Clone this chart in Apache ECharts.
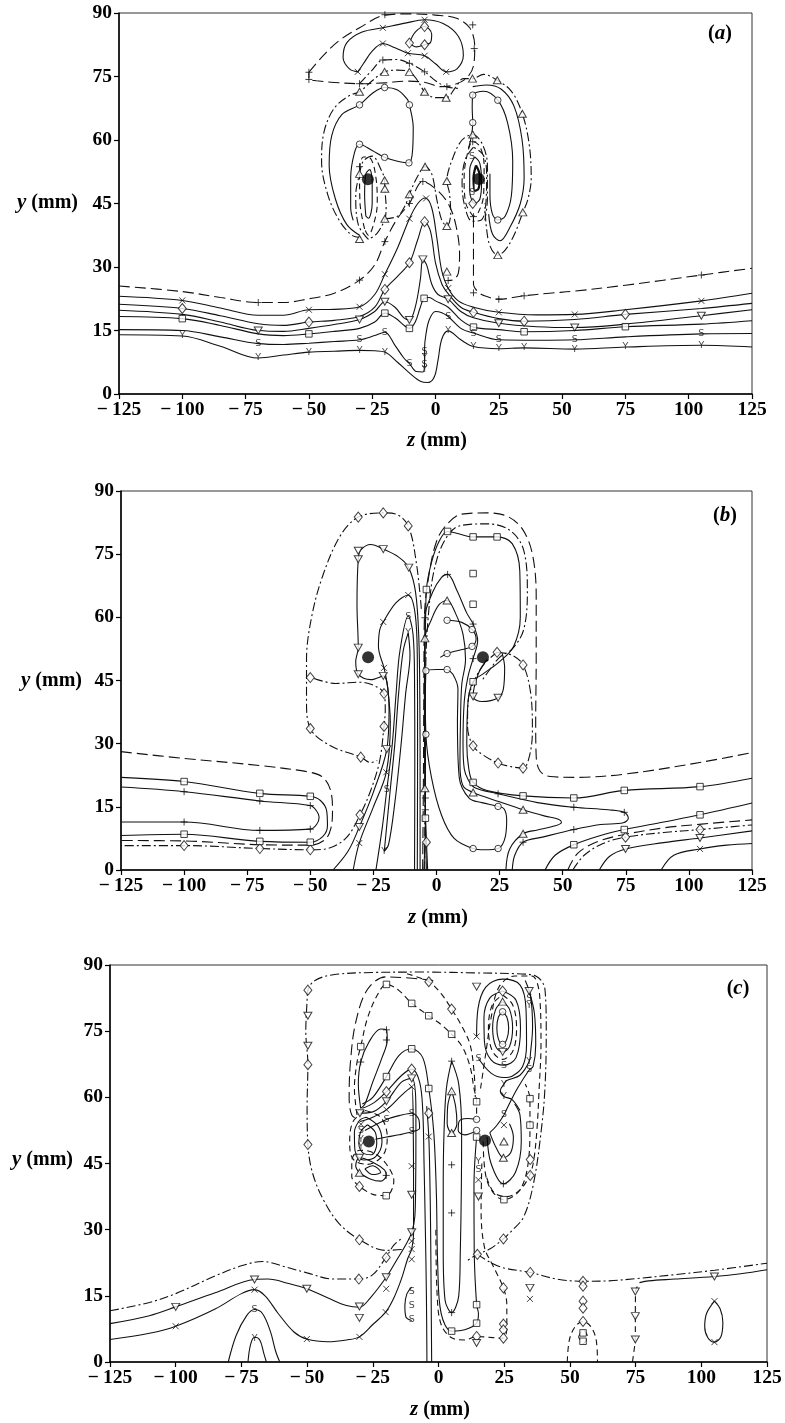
<!DOCTYPE html>
<html><head><meta charset="utf-8">
<script src="https://cdn.jsdelivr.net/npm/echarts@6/dist/echarts.min.js"></script>
<style>html,body{margin:0;padding:0;background:#fff}#c{width:785px;height:1423px}</style>
</head><body><div id="c"></div>
<script>
// ---------- axis ticks ----------
const zTicks = [-125,-100,-75,-50,-25,0,25,50,75,100,125];
const yTicks = [0,15,30,45,60,75,90];
const panelTags = ['a','b','c'];

// ================= PANEL (a) contours =================
const a_lo_plus = [[-125,25.5],[-100,24.2],[-85,22.8],[-70,21.6],[-60,21.6],[-50,22.5],[-40,23.8],[-30,26.9],[-24,30.5],[-20,36],[-15,41.5],[-10.3,45],[-5,50.2],[0,48.5],[5,45],[8,40],[9.5,33],[9,28.5],[7,27],[5,26.8]];
const a_dash_right = [[15,41.9],[15,36],[15,30],[15,26],[16.5,24.3],[19,23.3],[25,22.4],[35,23.2],[45,23.8],[55,24.3],[75,25.7],[105,28.1],[125,29.7]];
const a_lo_x = [[-125,23.1],[-100,22.1],[-85,20.3],[-70,18.6],[-60,18.6],[-50,19.9],[-40,20],[-30,20.6],[-24,23.5],[-20,28.3],[-15,34.5],[-10.3,41.4],[-7,45],[-4,46.3],[-1.5,44],[0.5,37],[2.5,29],[5,25],[9,22],[15,20.5],[25,19.3],[40,18.7],[55,18.8],[75,19.9],[105,22],[125,23.8]];
const a_lo_dia = [[-125,21.2],[-100,20.2],[-85,18.5],[-70,16.6],[-60,16.2],[-50,17],[-40,17.4],[-30,18.3],[-24,20.5],[-20,24.7],[-15,27.8],[-10.3,31],[-7,36.5],[-4.3,40.7],[-2,38.5],[0,31],[2.5,26],[5,23.7],[10,20.5],[15,19.3],[25,17.8],[35,17.2],[55,17.6],[75,18.8],[105,20.2],[125,21.4]];
const a_lo_itri = [[-125,19.8],[-100,18.8],[-85,17],[-70,15],[-60,14.8],[-50,15.5],[-40,16.4],[-30,17.6],[-24,19.5],[-20,21.8],[-16,20.5],[-12.5,18],[-10.3,17.5],[-8,20.5],[-6,27],[-5,31.8],[-3.5,30.5],[-1.5,26],[1,23.5],[5,22.4],[10,19.5],[15,18],[25,16.7],[40,15.9],[55,15.7],[75,16.5],[105,18.5],[125,19.9]];
const a_lo_sq = [[-125,18.3],[-100,17.8],[-85,16.2],[-70,14.2],[-60,13.8],[-50,14.2],[-40,14.8],[-30,15.5],[-24,17],[-20,19.1],[-16,18],[-12,16],[-10.3,15.5],[-8,17],[-6,20.5],[-4.5,22.6],[-2.5,22.8],[0,22],[5,20.5],[10,17.5],[15,15.8],[25,15.2],[35,14.7],[55,15],[75,15.9],[105,16.5],[125,17.3]];
const a_lo_S = [[-125,15.2],[-100,15],[-85,13.5],[-70,11.9],[-60,11.7],[-50,12],[-40,12.4],[-30,12.8],[-24,13.8],[-20,14.6],[-16,11.5],[-12.5,8.5],[-10.3,7.2],[-7.5,5.3],[-5,5.2],[-4.3,8],[-4.3,11],[-3.8,14],[-2.5,17.5],[0,19.5],[2.5,19.2],[5,18.3],[10,15.5],[15,14.4],[25,12.8],[40,12.7],[55,12.8],[75,13.5],[105,14.2],[125,14.3]];
const a_lo_Y = [[-125,14],[-100,13.7],[-85,11.3],[-70,8.5],[-60,9.2],[-50,9.9],[-40,10.1],[-30,10.3],[-24,10.2],[-20,9.9],[-15,7.5],[-10,4.8],[-6,3],[-3,2.7],[-0.5,4],[1,8],[2.5,13],[5,14.9],[10,12.8],[15,11.2],[25,10.7],[35,10.9],[55,10.6],[75,11.1],[105,11.5],[125,11.1]];
const a_cap_dash = [[-50,76],[-45,79.5],[-38,83.5],[-30,86.5],[-20,89.5],[-10,89.8],[0,89.5],[8,88.8],[13.5,86.5],[15.5,82],[15,77.5],[12,74.5],[7,73],[2,72.6],[-4,73.6],[-12,73.9],[-20,73.5],[-30,73.3],[-40,73.6],[-47,74],[-50,74.3],[-50,76]];
const a_cap_ddplus = [[-30,73.3],[-25,76.5],[-20.8,78.9],[-15,79],[-10.3,78.1],[-4.3,76.1],[0,74],[4.2,72.6],[9,72.2]];
const a_cap_x = [[-30.7,76.1],[-34,76.8],[-36.5,79.5],[-35,83],[-29,85.5],[-20.8,86.5],[-12,87.6],[-4.3,88.4],[3,87.5],[9,84.5],[11,80],[8.5,76.8],[4.2,76.1],[0,78],[-4.3,79.9],[-10.9,80.5],[-16,81.8],[-20.8,82.8],[-25,81],[-28.5,78],[-30.7,76.1]];
const a_cap_dia = [[-10.3,82.9],[-8,85.5],[-4.3,86.8],[-1.5,85],[-2,83],[-4.3,82.5],[-7.5,82],[-10.3,82.9]];
const a_tri_outer = [[-29.5,37],[-33,37.5],[-38,41],[-42.5,47],[-45,55],[-44,62],[-40,67.5],[-34,70.5],[-30,71.4],[-25,74],[-20.1,76.1],[-15,76.5],[-10.3,76.1],[-7,74],[-4.3,71.4],[0,70],[4.2,70],[8,72.5],[11,74.5],[14.6,74.5],[19,75.5],[24.4,74.1],[30,71.5],[34.3,66.2],[37,59],[37.8,51],[36.5,46],[34.5,42.9],[31,37.5],[27.5,34],[24.6,32.8],[21.5,35],[20,40],[19.5,45]];
const a_right_solid = [[14.7,72.6],[20,73],[26,72],[31,68],[34.2,60],[35,51],[33.5,45],[29.5,39.5],[25.5,36.2],[22.5,37.8],[21,42.5]];
const a_o_left = [[-30,37.5],[-35,40],[-39.5,46],[-42,54],[-41,61],[-37,66],[-30,68.3],[-25,71],[-20.1,72.4],[-15,71.8],[-11,69.5],[-10.3,68.3],[-8.8,63],[-9,58],[-10.5,54.6],[-15,55],[-20.1,55.9],[-25,57.5],[-30,59],[-32,57],[-33.5,51],[-33.5,44],[-32.5,41]];
const a_lv1 = [[-28,39],[-29.8,45],[-30,52],[-28.5,56],[-25.5,55.5],[-23.5,51],[-23,45],[-24.5,40],[-26.5,37.5],[-28,39]];
const a_lv2 = [[-26.5,36.5],[-30.5,40],[-31.5,47],[-30,52],[-28.5,55],[-25,56.2],[-21.5,53],[-20.1,50.5],[-20,48.5],[-19.5,44],[-20,41.4],[-23,38],[-26.5,36.5]];
const a_lv3 = [[-27.5,42],[-28,47],[-27.5,52],[-26,53],[-25,50],[-25,45],[-26.5,41.5],[-27.5,42]];
const a_tri_mid = [[-20,41.4],[-15,42],[-12,44.5],[-10.3,47.2],[-7,51.5],[-4.1,53.7],[-1.5,52],[0.5,46],[2.5,41],[4.5,39.7],[6,42.5],[5.5,47.5],[4.5,50.3],[7,56],[10.5,60],[14.7,61.3],[18.5,59],[20.5,54],[20.5,46],[19.5,41]];
const a_o_right = [[13,58],[14.2,61],[14.7,64.1],[14.5,67.5],[14.7,70.6],[19,71.5],[24.6,69.4],[28.5,64],[30.5,55],[30,47],[27.5,42],[24.6,41.1],[22.5,42.5],[21.5,47],[21.5,52]];
const a_rv_plus = [[15,41.9],[12,45],[11.3,51],[12.5,56.5],[14.7,59.6],[17.5,58.5],[19.2,54],[19,47],[17,43],[15,41.9]];
const a_rv_s1 = [[15.5,56],[13.5,53],[13.5,48],[15.5,45],[17.5,46],[18.2,50],[17.5,54.5],[15.5,56]];
const a_rv_s2 = [[16,54],[15,51],[15.5,48],[17,48.5],[17.5,51.5],[16,54]];
const a_rv_dd = [[15,58.3],[11.8,55.5],[10.5,50],[11.5,44.5],[14.5,40.8],[18.3,41.2],[20,46],[20.2,52],[18.8,56.5],[15,58.3]];

// (a) marker positions
const a_m_x = [[-100,22.1],[-50,19.9],[-30,20.6],[-20,28.3],[-10.3,41.4],[-3.7,46.2],[5,25],[25,19.3],[55,18.8],[105,22],[-30.7,76.1],[-20.8,86.5],[-20.8,82.8],[-4.3,88.4],[-10.9,80.5],[-4.3,79.9],[4.2,76.1]];
const a_m_plus = [[-70,21.6],[-30,26.9],[-20,36],[-10.3,45],[-5,50.2],[5,26.8],[15,23.9],[25,22.4],[35,23.2],[105,28.1],[-50,76],[-50,74.3],[-30,73.3],[-20,89.6],[14.7,87.2],[15.3,81.6],[4.5,72.6],[-20.8,78.9],[-10.3,78.1],[-4.3,76.1],[-30,53.7],[14.7,59.6],[15,41.9]];
const a_m_dia = [[-100,20.2],[-50,17],[-20,24.7],[-10.3,31],[-4.3,40.7],[15,19.3],[35,17.2],[75,18.8],[-4.3,86.8],[-10.3,82.9],[-4.3,82.5],[14.7,45]];
const a_m_tri = [[-30,71.4],[-20.1,76.1],[-10.3,76.1],[-4.3,71.4],[4.2,70],[14.6,74.5],[24.4,74.1],[34.3,66.2],[34.5,42.9],[24.6,32.8],[-30,36.6],[-30,52],[-20.1,50.5],[-20,48.5],[-20,41.4],[-10.3,47.2],[-4.1,53.7],[4.5,50.3],[4.5,39.7],[4.5,28.9],[14.7,61.3]];
const a_m_itri = [[-70,15],[-30,17.6],[-20,21.8],[-10.3,17.5],[-5,31.8],[5,22.4],[25,16.7],[55,15.7],[105,18.5]];
const a_m_sq = [[-100,17.8],[-50,14.2],[-20,19.1],[-10.3,15.5],[-4.5,22.6],[15,15.8],[35,14.7],[75,15.9]];
const a_m_o = [[-30,68.3],[-20.1,72.4],[-10.3,68.3],[-10.5,54.6],[-20.1,55.9],[-30,59],[14.7,70.6],[24.6,69.4],[14.7,64.1],[24.6,41.1]];
const a_m_S = [[-70,11.9],[-30,12.8],[-20,14.6],[-10.3,7.2],[5,18.3],[15,14.4],[25,12.8],[55,12.8],[105,14.2],[-4.3,10],[-4.3,7],[14.4,56.2],[14.5,47.5]];
const a_m_Y = [[-100,13.7],[-70,8.5],[-50,9.9],[-30,10.3],[-20,9.9],[5,14.9],[15,11.2],[25,10.7],[35,10.9],[55,10.6],[75,11.1],[105,11.5],[-4.3,8.5],[-4.3,5.7]];
const a_dots = [[-26.7,50.7],[17.1,50.8]];

// ================= PANEL (b) contours =================
const b_dash_left = [[-125,28.1],[-100,26.5],[-70,24.8],[-50,23.2],[-45,22],[-42,19],[-41.2,14],[-41.8,10],[-44,7.3],[-50,5.9],[-70,6],[-100,6.9],[-125,7]];
const b_sq_left = [[-125,22],[-100,21],[-70,18.2],[-50,17.5],[-46,16.5],[-43.5,14],[-43.2,10.5],[-45,8],[-50,6.6],[-70,6.8],[-100,8.5],[-125,8.2]];
const b_plus_left = [[-125,19.7],[-100,18.6],[-70,16.4],[-50,15.3],[-47.5,14],[-46.5,12.5],[-47.5,10.8],[-50,9.7],[-70,9.4],[-100,11.4],[-125,11.4]];
const b_dia_A = [[-6,62],[-8,73],[-11.2,81.7],[-16,84.5],[-21.1,84.8],[-31,83.8],[-38,79.5],[-45,70],[-49.5,60],[-51.5,50],[-51.5,40],[-50,33.6],[-42,29.5],[-30,26.8],[-26,25.5],[-23.5,26]];
const b_dia_B = [[-48.5,45.5],[-40,44.3],[-30,44.6],[-24,43.6],[-20.8,41.9],[-20.3,38],[-20.8,34.1],[-22.5,26],[-26,19],[-30.3,13.1],[-36,7.5],[-44,5],[-50,4.8],[-70,5.1],[-100,5.8],[-125,5.8]];
const b_itri = [[-41,0],[-35,4.5],[-30.6,10.2],[-25,18.5],[-19.7,28.7],[-18.8,38],[-21.1,46.1],[-26,45.2],[-31,46.5],[-32,49.5],[-31,52.8],[-31.5,63],[-31,73.8],[-30,76],[-26,77.3],[-21.1,76.2],[-15,74.3],[-11,71.8],[-8.3,66],[-7,55],[-6.6,40],[-6.5,20],[-6.5,0]];
const b_x = [[-33,0],[-30.6,6.4],[-25,15],[-19.9,23.2],[-18.3,35],[-19.5,44],[-20.8,48],[-23,53],[-22.5,57],[-21.1,58.9],[-16,63.5],[-11.2,65.3],[-8.5,61],[-7.6,50],[-7.5,30],[-7.6,0]];
const b_S = [[-24,0],[-21.5,10],[-19.7,19],[-17.5,30],[-16,42],[-14.5,52],[-11.2,60.3],[-9.3,56],[-8.7,45],[-8.6,25],[-8.7,0]];
const b_Y = [[-11.2,56.3],[-13.2,52],[-15,42],[-16.5,30],[-18.5,18],[-20.7,4.4],[-19,6],[-16.5,16],[-14,30],[-12.2,42],[-10.5,51],[-11.2,56.3]];
const b_c1 = [[-5.5,0],[-5.2,20],[-5,45],[-4.8,60],[-3,70],[0,78],[4,82],[10,84.5],[20,84.8],[28,84],[34,81],[38,75],[39.5,65],[39.5,50],[39.3,35],[39.5,27],[41,23.5],[45,22.2],[55,22],[75,22.8],[105,25.6],[125,27.9]];
const b_c2 = [[-4.7,0],[-4.5,25],[-4.2,50],[-3,62],[-1,71],[3,78],[9,81.7],[20,82.2],[29,80.7],[34.5,76],[36,66],[34.5,57],[30,52.5],[25,50.5],[21,47.5],[18,45]];
const b_sq = [[-5,0],[-4.4,12.3],[-4.5,30],[-4.6,50],[-4.3,60],[-4,66.6],[-2,73],[1,78],[4.4,80.4],[14.5,79.1],[24,79.1],[30,77.5],[33,71],[33.2,60],[30.5,53],[25,49.5],[19,46.8],[14.5,44.7],[12.5,40],[12,30],[12.8,24],[14.5,20.8],[20,18.9],[34.3,17.6],[54.4,17.1],[74.4,18.9],[104.4,19.8],[125,21.8]];
const b_plus = [[-4,0],[-4.4,14.3],[-4.4,17.1],[-4.5,35],[-4.6,59.9],[-1.5,66],[2,69.5],[4.4,70.2],[8,66.5],[12,61],[14.5,58.4],[16.3,54.5],[14.5,50.2],[12.5,46],[11,40],[10.5,30],[11,24],[12.5,21.5],[15,19.6],[24.4,18.1],[40,16],[54.4,14.9],[68,14.3],[74.4,13.7],[76,12.3],[74,11.2],[65,10.8],[54.4,9.6],[42,7.8],[34.3,6.6],[31,3.5],[30,0]];
const b_tri = [[-3.5,0],[-4.2,10],[-4.6,19.4],[-4.8,40],[-4.6,55],[-2,59.5],[1,63],[4.2,64],[7.5,61],[10.5,56],[11.5,50],[10,44],[9.5,35],[9.3,25],[10.5,20],[14.5,18.4],[25,16.2],[34.3,14.3],[43,12.8],[48.5,12],[49.5,11.3],[47,10.5],[40,9.5],[34.3,8.6],[29,5],[27.5,0]];
const b_o_up = [[4.2,59.3],[10,58.8],[14.1,57.1],[15.7,55],[14.1,53.1],[9,52.2],[4.2,51.4],[1.5,50.5]];
const b_o_low = [[4.2,47.6],[0,47.6],[-4.2,47.3],[-4.4,40],[-4.2,32.2],[-2,22],[2,13],[7,7.5],[14.5,5.1],[19,4.8],[24.4,5.1],[27.3,8],[27.8,12],[26.8,14.5],[24.4,15.1],[18,16],[13,17],[9,22],[8.3,35],[8.5,43],[6.5,46.5],[4.2,47.6]];
const b_itri_hp = [[20,50],[16.5,46.5],[14.5,41.2],[18,40],[24.4,40.9],[26.5,43],[27,48],[26,51.5]];
const b_dia_loop = [[24,51.7],[30,51],[34.3,48.7],[37.3,42],[38,33],[36.8,27],[34.3,24.2],[29,24.6],[24.4,25.4],[18.5,27.3],[14.5,29.5],[12.3,34],[12.5,40],[15,45],[19,49],[24,51.7]];
const b_sq_low = [[43,0],[47,3.5],[54.4,6],[65,8.2],[74.4,9.6],[90,11.4],[104.4,13.1],[125,15.9]];
const b_dash_low = [[52,0],[56,4],[64,6.8],[75,8.5],[90,10],[105,10.9],[125,11.9]];
const b_dd_low = [[54,0],[58.5,3.5],[66,6.3],[74.9,7.8],[90,8.9],[104.4,9.6],[125,10.7]];
const b_itri_low = [[64.5,0],[68.5,3.2],[74.9,5],[90,6.5],[104.4,7.6],[125,9.3]];
const b_x_low = [[89,0],[94,3.5],[104.4,5],[115,5.9],[125,6.3]];

const b_m_x = [[-30.6,6.4],[-19.9,23.2],[-20.8,48],[-21.1,58.9],[-11.2,65.3],[104.4,5]];
const b_m_plus = [[-100,18.6],[-70,16.4],[-50,15.3],[-50,9.7],[-70,9.4],[-100,11.4],[-4.4,14.3],[-4.4,17.1],[-4.6,59.9],[4.4,70.2],[14.5,58.4],[14.5,50.2],[24.4,18.1],[54.4,14.9],[74.4,13.7],[54.4,9.6],[34.3,6.6]];
const b_m_dia = [[-31,83.8],[-21.1,84.8],[-11.2,81.7],[-50,45.7],[-50,33.6],[-30,26.8],[-20.8,41.9],[-20.8,34.1],[-30.3,13.1],[-100,5.8],[-70,5.1],[-50,4.8],[24,51.7],[34.3,48.7],[14.5,29.5],[24.4,25.4],[34.3,24.2],[74.9,7.8],[104.4,9.6],[-4,6.6]];
const b_m_tri = [[-4.6,19.4],[-4.6,55],[4.2,64],[14.5,18.4],[34.3,14.3],[34.3,8.6]];
const b_m_itri = [[-31,75.8],[-31,73.8],[-21.1,76.2],[-11,71.8],[-31,52.8],[-31,46.5],[-21.1,46.1],[-19.7,28.7],[-30.6,10.2],[14.5,41.2],[24.4,40.9],[74.9,5],[104.4,7.6]];
const b_m_sq = [[-100,21],[-70,18.2],[-50,17.5],[-50,6.6],[-70,6.8],[-100,8.5],[-4.4,12.3],[-4,66.6],[4.4,80.4],[14.5,79.1],[24,79.1],[14.5,70.4],[14.5,63.1],[14.5,44.7],[14.5,20.8],[34.3,17.6],[54.4,17.1],[74.4,18.9],[104.4,19.8],[54.4,6],[74.4,9.6],[104.4,13.1]];
const b_m_o = [[4.2,59.3],[14.1,57.1],[14.1,53.1],[4.2,51.4],[4.2,47.6],[-4.2,47.3],[-4.2,32.2],[14.5,5.1],[24.4,5.1],[24.4,15.1]];
const b_m_S = [[-19.7,19],[-11.2,60.3]];
const b_m_Y = [[-11.2,56.3],[-20.7,4.4]];
const b_dots = [[-27.1,50.5],[18.4,50.5]];

// ================= PANEL (c) contours =================
const c_dd_bl = [[-125,11.6],[-110,13.5],[-100,15.5],[-85,19.5],[-75,21.8],[-67,22.8],[-58,21.5],[-50,20.2],[-40,18.8],[-30,18.8],[-25,19.8],[-20,23.7],[-17,26.5],[-14,28]];
const c_dd_loop = [[-14,25.5],[-20,25.3],[-30,27.7],[-38,31.5],[-44,37],[-48,43],[-49.7,49.3],[-50,58],[-49.7,67.4],[-50.5,75],[-50,82],[-49.7,84.3],[-47,86.5],[-40,87.8],[-25,88.3],[-5,88.4],[15,88.2],[30,88],[37,87.5],[40.5,84.5],[41,75],[40.5,62],[39,52],[36.2,40.6],[32.4,32.9],[27.5,29.5],[24.7,27.9],[19.5,25.6],[14.8,24.4],[11,23]];
const c_dd_right = [[14.8,24.4],[20,22.5],[25,21.3],[34.9,20.3],[45,18.8],[55,18.3],[65,18.4],[75,18.9],[90,19.8],[105,20.8],[125,22.4]];
const c_itri_v = [[73.8,0],[74.5,3],[74.9,5.1],[74.9,10.4],[75,16],[76.5,18]];
const c_itri_h = [[76.5,18],[80,18.4],[90,18.8],[105,19.4],[115,20],[125,20.9]];
const c_x_loop = [[105,13.8],[102,11],[101.3,8],[102.5,5.5],[105,4.5],[107.5,5.8],[108.2,9],[107.2,12],[105,13.8]];
const c_dash_55 = [[49,0],[49.8,5],[52,8],[55,9.2],[58,8],[60,5],[60.5,0]];
const c_dash_55s = [[53.3,5.7],[55,7.3],[56.7,5.7],[55,4.2],[53.3,5.7]];
const c_S_hp = [[-80,0],[-77,6],[-73,10.5],[-70,11.9],[-67,11],[-64,7],[-62,2.5],[-60.4,0]];
const c_Y_hp = [[-72.5,0],[-71.5,4],[-70,5.6],[-68,5],[-66.5,2],[-65.5,0]];
const c_bl_itri = [[-125,8.7],[-110,10.5],[-100,12.5],[-85,15.7],[-70,18.7],[-65,18.8],[-57,17.8],[-50.1,16.6],[-42,14.5],[-35,12.8],[-30.1,12.4],[-26,14.5],[-19.9,19.2],[-16,23],[-12.5,26.5],[-10.2,29.4],[-9,33],[-8.7,40],[-8.6,50],[-8.6,57],[-10.2,64.3],[-14,63.5],[-19.8,59.1],[-25,56.7],[-29.9,56.4]];
const c_bl_x = [[-125,5.1],[-110,6.5],[-100,8.1],[-85,12],[-75,15.5],[-70,16.4],[-66,15],[-61,11],[-55,6.8],[-50.1,5.2],[-42,4.6],[-35,5],[-30.1,5.7],[-25,8.5],[-20.1,11.3],[-17,14.5],[-14,19],[-11.8,23.3],[-10.2,25.6],[-9.5,29],[-9.5,40],[-9.6,52],[-10.2,62.4],[-14,60.5],[-19.8,57.2],[-25,55.5],[-29.9,54.5]];
const c_S_c = [[-10.2,17],[-12,15.5],[-12.8,12.8],[-12.4,10.2],[-10.2,9.4]];
const c_dia_hump = [[-29,57.5],[-24.5,58.8],[-19.8,61.3],[-14,65],[-10.2,66.4],[-7.2,63.5],[-6,57],[-5.5,45],[-5,30],[-4.6,15],[-4.4,0]];
const c_sq_hump = [[-29,58.5],[-25,60],[-19.8,64.7],[-15,69.5],[-10.2,71],[-6,69],[-3.7,62],[-1.8,52],[-0.8,38],[-0.3,22],[1,11],[5,7],[10,7.3],[14.5,8.8],[15.2,11],[14.5,13],[13.6,25],[13.5,40],[14.5,51]];
const c_v2 = [[-2.6,0],[-2.8,15],[-3,30],[-3.3,42],[-3.7,51.1],[-4.5,58]];
const c_S_mid = [[-28,52.5],[-19.8,55],[-14,56],[-10.2,56.4],[-7.5,55],[-7.2,53],[-10.2,52.2],[-15,51.5],[-19.8,51],[-24,50.5]];
const c_plus_ul = [[-29.6,57.5],[-30.5,63],[-29.6,68],[-26.5,72.5],[-22,75.5],[-19.8,75.3],[-19.5,73],[-21.5,69],[-25,63.5],[-28,58.5],[-29.6,57.5]];
const c_dash_sq = [[-31,56],[-32,62],[-31,68],[-29.6,71.5],[-27,78],[-23,83.5],[-19.8,85.6],[-15,84.2],[-10.2,81.3],[-3.7,78.5],[1,76.5],[5,74.3],[9,71.5],[12,67],[13.5,62],[14.5,59],[14.5,55.5]];
const c_dash_outer = [[-2,86.5],[-10,87],[-20,87.3],[-27,84.5],[-31.5,77],[-33.5,68],[-34,60],[-33,56],[-30.5,55]];
const c_dash_dia = [[-12,88],[-3.7,86.2],[1,83.5],[5,80],[9,76],[12,72],[13.5,66],[14,60]];
const c_e1 = [[24.4,79.4],[26,78.2],[26.7,75.7],[26,73.2],[24.4,72],[22.8,73.2],[22.2,75.7],[22.8,78.2],[24.4,79.4]];
const c_e2 = [[24.4,81.7],[27,80],[28.2,75.7],[27,71.5],[24.4,70.3],[21.8,71.5],[20.6,75.7],[21.8,80],[24.4,81.7]];
const c_e3 = [[24.4,83.2],[28.2,81],[29.7,75.7],[28.3,70.5],[24.4,68.6],[20.5,70.5],[19,75.7],[20.5,81],[24.4,83.2]];
const c_e4 = [[24.4,84.1],[29.5,82],[31.2,75.7],[29.5,69],[24.9,67.3],[20,68.5],[17.5,72.5],[17.3,78],[19.5,82.5],[24.4,84.1]];
const c_x_top = [[14.5,73.8],[15,80],[18,85],[24.4,86.8],[31,85.5],[33.3,80],[33.5,72],[32,67],[28,64.8],[24.9,64.5],[20,65.5],[15.2,68.8]];
const c_r1 = [[33,86.5],[35,83],[35.8,76],[35,70],[34.5,68.1],[31,65],[26,63.8],[24.9,63],[23.5,61.5],[24.9,60.2],[28,59.5],[31,57]];
const c_r2 = [[34.5,84.1],[36.5,79],[37,72],[36,67],[34.5,66.2],[30,62],[26.5,58],[24.9,56],[22,53.5],[19.5,52]];
const c_r3 = [[16,62],[18,70],[20,78],[23,85],[29,87.5],[35.5,87.5],[38.5,83],[39,72],[38.3,62],[37.5,53],[36.3,46],[34.8,42.5],[31,39],[26,37.5],[21,38.5],[18,42.5]];
const c_rh1 = [[19.5,52],[22,48.5],[24.7,46.3],[27.5,47.5],[28.5,51],[27,54]];
const c_rh2 = [[18.5,51],[20,45],[24.7,40.4],[29.3,43],[31.5,50],[31,56],[29,58.5]];
const c_rh3 = [[17,50],[18.5,41],[24.7,36.8],[31,39],[34.3,46],[34.8,53.7],[34.8,59.7],[33,63]];
const c_plus_loop = [[5,68.2],[7.7,63],[8.8,52],[8.7,40],[8.3,25],[7.7,15],[5,11.2],[2.5,14],[1.8,25],[1.8,40],[2.1,52],[3,62],[5,68.2]];
const c_tri_loop = [[5,61.4],[6.5,58],[7,54],[5,51.9],[3.3,54],[3.5,58],[5,61.4]];
const c_o_loop = [[14.5,55],[11,55.2],[7.8,54.5],[7.5,52.5],[10,51.5],[14.5,52.5]];
const c_dash_cb = [[-1,30],[-0.5,15],[1,8.5],[5,5.5],[10,5],[14.5,5.8],[19,5.6],[24.7,5.4],[26,8.5],[26,13],[24.7,16.8],[21,21.5],[17.5,26],[16.2,35],[16.5,45]];
const c_ld1 = [[-27,53.8],[-24,52],[-23.5,49.5],[-25.5,47],[-28.5,47.3],[-30.3,49.5],[-29.5,52.3],[-27,53.8]];
const c_ld2 = [[-27.5,55.5],[-23,53.5],[-21.5,50],[-24,46.5],[-28.5,45.8],[-31.8,48],[-32,52],[-30,54.8],[-27.5,55.5]];
const c_ld3 = [[-28,57],[-22,55.5],[-19.5,51],[-21,47],[-27,44.8],[-32.5,46],[-33.8,50],[-32.5,54.5],[-28,57]];
const c_blob1 = [[-30.1,39.8],[-33,42],[-33,45.5],[-30,48],[-25,47.5],[-20,45],[-17,41],[-19.9,37.7],[-25,38],[-30.1,39.8]];
const c_blob2 = [[-30.1,42.9],[-31.5,44.5],[-30.1,46.3],[-25,45.3],[-20.5,43.5],[-19.9,42.3],[-22,41],[-26,41.5],[-30.1,42.9]];
const c_blob3 = [[-28,43.8],[-25,44.5],[-22,43],[-25,42.5],[-28,43.8]];

const c_m_x = [[-100,8.1],[-70,16.4],[-50.1,5.2],[-30.1,5.7],[-20.1,11.3],[-19.9,16.6],[-10.2,23.3],[-10.2,25.6],[-10.2,27.4],[-10.2,44.4],[-10.2,62.4],[-19.8,57.2],[-3.7,51.1],[14.5,73.8],[24.9,53.7],[15.2,41.3],[34.8,14.3],[105,13.8],[105,4.5],[-29.5,53.9]];
const c_m_plus = [[-19.8,75.3],[-19.8,73],[-29.6,68],[5,68.2],[5,44.7],[5,33.8],[5,11.2],[24.7,40.4],[-19.9,42.3]];
const c_m_dia = [[-10.2,66.4],[-19.8,61.3],[-3.7,56.4],[-3.7,86.2],[5,80],[24.4,84.1],[-49.7,84.3],[-49.7,67.4],[-49.7,49.3],[-30.1,27.7],[-19.9,23.7],[-30.3,18.8],[14.8,24.4],[24.7,27.9],[34.9,20.3],[34.9,45.9],[34.9,42.3],[-30.1,39.8],[24.7,16.8],[24.7,8.6],[24.7,7.3],[24.7,5.4],[14.5,5.8],[55,18.3],[55,17.2],[55,13.8],[55,12.2],[55,9.2]];
const c_m_tri = [[24.4,81.7],[5,61.4],[5,51.9],[24.9,50],[24.7,46.3],[-30.1,42.9]];
const c_m_itri = [[-100,12.5],[-70,18.7],[-50.1,16.6],[-30.1,12.6],[-30.1,10],[-19.9,19.2],[-10.2,29.4],[-10.2,37.9],[-10.2,64.3],[-19.8,59.1],[-29.9,56.4],[-49.7,78.5],[-49.7,71.7],[14.5,85.1],[24.4,70.3],[34.5,84.1],[-30.1,46.3],[15.2,37.5],[34.8,16.8],[14.5,4.3],[74.9,16],[74.9,10.4],[74.9,5.1],[105,19.4]];
const c_m_sq = [[-19.8,85.6],[-10.2,81.3],[-3.7,78.5],[5,74.3],[-29.6,71.5],[14.5,59],[-19.8,64.7],[-10.2,71],[-3.7,62],[5,7],[14.5,8.8],[14.5,13],[14.5,51],[34.8,59.7],[34.8,53.7],[24.9,36.8],[-19.9,37.7],[55,6.6],[55,4.7]];
const c_m_o = [[24.4,79.4],[24.4,72],[14.5,52.5],[14.5,55]];
const c_m_S = [[-70,11.9],[15.2,68.8],[24.9,67.3],[34.5,66.2],[34.5,82.5],[-10.2,56.4],[-10.2,52.2],[-19.8,55],[24.9,56],[15.2,43.6],[-10.2,16],[-10.2,12.8],[-10.2,9.7],[-29.5,52.5]];
const c_m_Y = [[-70,5.4],[34.5,68.1],[34.5,80.8],[24.9,63],[24.9,60.2],[15.2,45.5],[-29.5,50.5],[-29.5,48.8]];
const c_dots = [[-26.5,50],[17.7,50.2]];

// ---------------- styles (not data) ----------------
const DASH = {solid:'solid', dash:[6,4], ldash:[11,5], dd:[9,3,2,3]};
const FONT = 'Liberation Serif';
const INK = '#111';

const linesA = [[a_lo_plus,'ldash'],[a_dash_right,'ldash'],[a_lo_x,'solid'],[a_lo_dia,'solid'],[a_lo_itri,'solid'],[a_lo_sq,'solid'],[a_lo_S,'solid'],[a_lo_Y,'solid'],
 [a_cap_dash,'ldash'],[a_cap_ddplus,'dd'],[a_cap_x,'solid'],[a_cap_dia,'solid'],[a_tri_outer,'dd'],[a_right_solid,'solid'],[a_o_left,'solid'],
 [a_lv1,'dash'],[a_lv2,'dd'],[a_lv3,'solid'],[a_tri_mid,'dd'],[a_o_right,'solid'],[a_rv_plus,'dash'],[a_rv_s1,'solid'],[a_rv_s2,'solid',2.2],[a_rv_dd,'dd']];
const linesB = [[b_dash_left,'ldash'],[b_sq_left,'solid'],[b_plus_left,'solid'],[b_dia_A,'dd'],[b_dia_B,'dd'],[b_itri,'solid'],[b_x,'solid'],[b_S,'solid'],[b_Y,'solid'],
 [b_c1,'ldash'],[b_c2,'dd'],[b_sq,'solid'],[b_plus,'solid'],[b_tri,'solid'],[b_o_up,'solid'],[b_o_low,'solid'],[b_itri_hp,'solid'],[b_dia_loop,'dd'],
 [b_sq_low,'solid'],[b_dash_low,'ldash'],[b_dd_low,'dd'],[b_itri_low,'solid'],[b_x_low,'solid']];
const linesC = [[c_dd_bl,'dd'],[c_dd_loop,'dd'],[c_dd_right,'dd'],[c_itri_v,'dash'],[c_itri_h,'solid'],[c_x_loop,'solid'],[c_dash_55,'dash'],[c_dash_55s,'dash'],
 [c_S_hp,'solid'],[c_Y_hp,'solid'],[c_bl_itri,'solid'],[c_bl_x,'solid'],[c_S_c,'solid'],[c_dia_hump,'solid'],[c_sq_hump,'solid'],[c_v2,'solid'],[c_S_mid,'solid'],
 [c_plus_ul,'solid'],[c_dash_sq,'dash'],[c_dash_outer,'ldash'],[c_dash_dia,'dash'],[c_e1,'solid'],[c_e2,'solid'],[c_e3,'dash'],[c_e4,'solid'],[c_x_top,'solid'],
 [c_r1,'solid'],[c_r2,'solid'],[c_r3,'dash'],[c_rh1,'solid'],[c_rh2,'solid'],[c_rh3,'dash'],[c_plus_loop,'solid'],[c_tri_loop,'solid'],[c_o_loop,'solid'],
 [c_dash_cb,'dash'],[c_ld1,'solid'],[c_ld2,'solid'],[c_ld3,'dash'],[c_blob1,'dash'],[c_blob2,'solid'],[c_blob3,'solid']];

const markA = {x:a_m_x, plus:a_m_plus, dia:a_m_dia, tri:a_m_tri, itri:a_m_itri, sq:a_m_sq, o:a_m_o, S:a_m_S, Y:a_m_Y, dot:a_dots};
const markB = {x:b_m_x, plus:b_m_plus, dia:b_m_dia, tri:b_m_tri, itri:b_m_itri, sq:b_m_sq, o:b_m_o, S:b_m_S, Y:b_m_Y, dot:b_dots};
const markC = {x:c_m_x, plus:c_m_plus, dia:c_m_dia, tri:c_m_tri, itri:c_m_itri, sq:c_m_sq, o:c_m_o, S:c_m_S, Y:c_m_Y, dot:c_dots};

const SYM = {
  x:{symbol:'path://M0,0L10,10M10,0L0,10', size:6, fill:'rgba(0,0,0,0)'},
  plus:{symbol:'path://M5,0L5,10M0,5L10,5', size:7, fill:'rgba(0,0,0,0)'},
  dia:{symbol:'diamond', size:[8,10], fill:'#fff'},
  tri:{symbol:'triangle', size:[8,7], fill:'#fff'},
  itri:{symbol:'triangle', size:[8,7], fill:'#fff', rotate:180},
  sq:{symbol:'rect', size:6.5, fill:'#fff'},
  o:{symbol:'circle', size:6.5, fill:'#fff'},
  dot:{symbol:'circle', size:12, fill:'#000'}
};

function lineSeries(p, item){
  return {type:'line', xAxisIndex:p, yAxisIndex:p, data:item[0], smooth:0.35, symbol:'none',
    lineStyle:{color:INK, width:item[2]||1.1, type:DASH[item[1]]}, silent:true, animation:false, z:2};
}
function markSeries(p, kind, data){
  if (kind==='S' || kind==='Y'){
    return {type:'scatter', xAxisIndex:p, yAxisIndex:p, data, symbol:'circle', symbolSize:1,
      itemStyle:{color:'rgba(0,0,0,0)'}, label:{show:true, position:'inside', formatter:kind, fontSize:9.5, fontFamily:'DejaVu Sans', color:INK},
      silent:true, animation:false, z:4};
  }
  const s = SYM[kind];
  return {type:'scatter', xAxisIndex:p, yAxisIndex:p, data, symbol:s.symbol, symbolSize:s.size, symbolRotate:s.rotate||0,
    itemStyle:{color:s.fill, borderColor:kind==='dot'?'#000':INK, borderWidth:kind==='dot'?0:1}, silent:true, animation:false, z:kind==='dot'?6:4};
}

const series = [];
[linesA, linesB, linesC].forEach((ls,p)=>ls.forEach(it=>series.push(lineSeries(p,it))));
[markA, markB, markC].forEach((mk,p)=>Object.keys(mk).forEach(k=>series.push(markSeries(p,k,mk[k]))));

const grids = [
  {left:119, top:13, width:633, height:381},
  {left:121, top:491, width:631, height:379},
  {left:110, top:965, width:657, height:397}
].map(g=>Object.assign(g,{show:true, borderColor:'#333', borderWidth:1, backgroundColor:'transparent'}));

const fmtZ = v => v<0 ? '\u2212\u2009' + Math.abs(v) : String(v);
const xAxes = grids.map((g,i)=>({gridIndex:i, type:'value', min:zTicks[0], max:zTicks[zTicks.length-1], interval:25,
  axisLine:{onZero:false, lineStyle:{color:'#000', width:1.5}}, axisTick:{length:5, lineStyle:{color:'#000', width:1.2}},
  axisLabel:{formatter:fmtZ, fontFamily:FONT, fontSize:19.5, fontWeight:'bold', color:'#000', margin:6}, splitLine:{show:false}}));
const yAxes = grids.map((g,i)=>({gridIndex:i, type:'value', min:yTicks[0], max:yTicks[yTicks.length-1], interval:15,
  axisLine:{onZero:false, lineStyle:{color:'#000', width:1.5}}, axisTick:{length:5, lineStyle:{color:'#000', width:1.2}},
  axisLabel:{fontFamily:FONT, fontSize:19.5, fontWeight:'bold', color:'#000', margin:7}, splitLine:{show:false}}));

const rich = {i:{fontStyle:'italic', fontWeight:'bold', fontSize:21, fontFamily:FONT, fill:'#000'}, n:{fontWeight:'bold', fontSize:20, fontFamily:FONT, fill:'#000'}};
function txt(x,y,text,align){ return {type:'text', x, y, silent:true, style:{text, rich, align:align||'center', verticalAlign:'middle', fill:'#000'}}; }
const graphic = [
  txt(78,203,'{i|y}{n| (mm)}','right'), txt(82,681,'{i|y}{n| (mm)}','right'), txt(73,1160,'{i|y}{n| (mm)}','right'),
  txt(437,441,'{i|z}{n| (mm)}'), txt(438,918,'{i|z}{n| (mm)}'), txt(440,1410,'{i|z}{n| (mm)}'),
  txt(720,34,'{n|(}{i|'+panelTags[0]+'}{n|)}'), txt(725,516,'{n|(}{i|'+panelTags[1]+'}{n|)}'), txt(738,989,'{n|(}{i|'+panelTags[2]+'}{n|)}')
];

const chart = echarts.init(document.getElementById('c'), null, {renderer:'canvas'});
chart.setOption({animation:false, backgroundColor:'#fff', grid:grids, xAxis:xAxes, yAxis:yAxes, series, graphic});
</script></body></html>
